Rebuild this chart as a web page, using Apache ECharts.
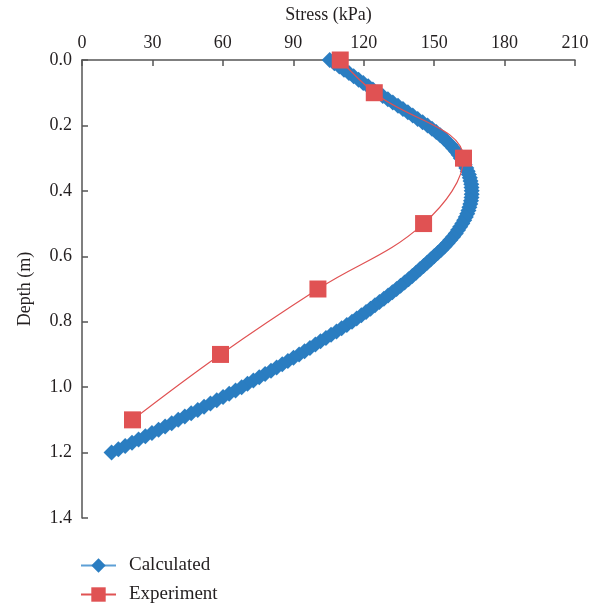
<!DOCTYPE html>
<html>
<head>
<meta charset="utf-8">
<script src="https://cdn.jsdelivr.net/npm/echarts@6/dist/echarts.min.js"></script>
<style>
html,body{margin:0;padding:0;background:#fff;}
#chart{width:603px;height:606px;}
</style>
</head>
<body>
<div id="chart"></div>
<script>
// Calculated curve: depth (m) and stress (kPa)
var calcDepth = [0.00,0.01,0.02,0.03,0.04,0.05,0.06,0.07,0.08,0.09,
0.10,0.11,0.12,0.13,0.14,0.15,0.16,0.17,0.18,0.19,
0.20,0.21,0.22,0.23,0.24,0.25,0.26,0.27,0.28,0.29,
0.30,0.31,0.32,0.33,0.34,0.35,0.36,0.37,0.38,0.39,
0.40,0.41,0.42,0.43,0.44,0.45,0.46,0.47,0.48,0.49,
0.50,0.51,0.52,0.53,0.54,0.55,0.56,0.57,0.58,0.59,
0.60,0.61,0.62,0.63,0.64,0.65,0.66,0.67,0.68,0.69,
0.70,0.71,0.72,0.73,0.74,0.75,0.76,0.77,0.78,0.79,
0.80,0.81,0.82,0.83,0.84,0.85,0.86,0.87,0.88,0.89,
0.90,0.91,0.92,0.93,0.94,0.95,0.96,0.97,0.98,0.99,
1.00,1.01,1.02,1.03,1.04,1.05,1.06,1.07,1.08,1.09,
1.10,1.11,1.12,1.13,1.14,1.15,1.16,1.17,1.18,1.19,1.20];
var calcStress = [105.5,107.5,109.6,111.6,113.7,115.7,117.8,119.8,121.9,123.9,
126.0,128.1,130.3,132.4,134.6,136.7,138.8,140.9,143.0,145.1,
147.2,149.1,150.9,152.6,154.2,155.6,157.0,158.2,159.4,160.4,
161.4,162.2,163.0,163.7,164.3,164.8,165.2,165.5,165.8,165.9,
166.0,166.0,165.9,165.7,165.4,165.0,164.6,164.1,163.5,162.8,
162.0,161.1,160.2,159.2,158.1,156.9,155.7,154.4,153.0,151.5,
150.0,148.5,147.0,145.5,143.9,142.3,140.7,139.1,137.4,135.7,
134.0,132.2,130.4,128.6,126.7,124.8,122.9,121.0,119.0,117.0,
115.0,112.8,110.6,108.4,106.1,103.9,101.6,99.4,97.1,94.8,
92.5,90.1,87.7,85.3,82.9,80.5,78.0,75.5,73.0,70.5,
68.0,65.4,62.7,60.1,57.4,54.7,52.0,49.3,46.5,43.8,
41.0,38.2,35.4,32.6,29.8,27.0,24.1,21.3,18.4,15.5,12.6];
// Experiment points
var expDepth = [0.0,0.1,0.3,0.5,0.7,0.9,1.1];
var expStress = [110,124.5,162.5,145.5,100.5,59,21.5];
// Axis ticks
var xTicks = [0,30,60,90,120,150,180,210];
var yTicks = [0.0,0.2,0.4,0.6,0.8,1.0,1.2,1.4];

var calcData = calcDepth.map(function(d,i){return [calcStress[i], d];});
var expData = expDepth.map(function(d,i){return [expStress[i], d];});

var FONT = '"Liberation Serif", "DejaVu Serif", serif';
var legendBase = {
  orient:'horizontal', left:80, padding:0, itemWidth:35, itemHeight:18,
  textStyle:{fontFamily:FONT, fontSize:19, color:'#231f20', padding:[0,0,0,8]}
};
var chart = echarts.init(document.getElementById('chart'), null, {renderer:'canvas'});
chart.setOption({
  animation:false,
  backgroundColor:'#ffffff',
  grid:{left:82, right:28, top:60, bottom:88, containLabel:false, outerBoundsMode:'none'},
  xAxis:{
    type:'value', position:'top', min:xTicks[0], max:xTicks[xTicks.length-1], interval:30,
    name:'Stress (kPa)', nameLocation:'middle', nameGap:36,
    nameTextStyle:{fontFamily:FONT, fontSize:18, color:'#231f20'},
    axisLine:{show:true, lineStyle:{color:'#555', width:1.5}},
    axisTick:{show:true, inside:true, length:6, lineStyle:{color:'#555', width:1.5}},
    axisLabel:{fontFamily:FONT, fontSize:18, color:'#231f20', margin:8},
    splitLine:{show:false}
  },
  yAxis:{
    type:'value', inverse:true, min:yTicks[0], max:yTicks[yTicks.length-1], interval:0.2,
    name:'Depth (m)', nameLocation:'middle', nameGap:48, nameRotate:90,
    nameTextStyle:{fontFamily:FONT, fontSize:18, color:'#231f20'},
    axisLine:{show:true, lineStyle:{color:'#555', width:1.5}},
    axisTick:{show:true, inside:true, length:6, lineStyle:{color:'#555', width:1.5}},
    axisLabel:{fontFamily:FONT, fontSize:18, color:'#231f20', margin:10,
      formatter:function(v){return v.toFixed(1);}},
    splitLine:{show:false}
  },
  legend:[
    Object.assign({}, legendBase, {top:556, data:['Calculated']}),
    Object.assign({}, legendBase, {top:585, data:['Experiment']})
  ],
  series:[
    {
      name:'Calculated', type:'line', data:calcData,
      symbol:'diamond', symbolSize:16, showSymbol:true,
      itemStyle:{color:'#2a7dc1'},
      lineStyle:{color:'#5d9fd6', width:1.5},
      z:2
    },
    {
      name:'Experiment', type:'line', data:expData, smooth:0.4,
      symbol:'rect', symbolSize:17,
      itemStyle:{color:'#e05253'},
      lineStyle:{color:'#e05253', width:1.2},
      z:3
    }
  ]
});
</script>
</body>
</html>
